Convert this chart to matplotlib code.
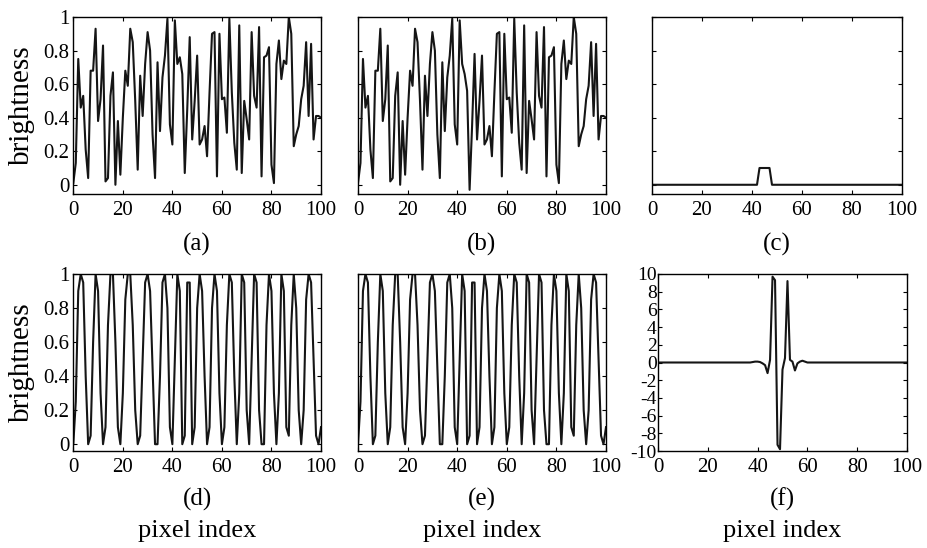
import matplotlib
matplotlib.use('Agg')
import matplotlib.pyplot as plt
import numpy as np

plt.rcParams['font.family'] = ['Liberation Serif', 'DejaVu Serif']

x_index = list(range(101))

sig_a = [0.01, 0.13, 0.75, 0.46, 0.53, 0.21, 0.04, 0.68, 0.68, 0.93,
         0.38, 0.51, 0.83, 0.02, 0.04, 0.53, 0.67, 0.00, 0.38, 0.06,
         0.40, 0.68, 0.59, 0.93, 0.85, 0.50, 0.09, 0.65, 0.41, 0.72,
         0.91, 0.80, 0.30, 0.04, 0.73, 0.32, 0.64, 0.77, 0.99, 0.36,
         0.24, 0.98, 0.72, 0.76, 0.66, 0.07, 0.45, 0.88, 0.27, 0.50,
         0.77, 0.24, 0.27, 0.35, 0.17, 0.55, 0.90, 0.91, 0.05, 0.90,
         0.51, 0.52, 0.31, 0.99, 0.55, 0.25, 0.09, 0.95, 0.07, 0.50,
         0.39, 0.27, 0.91, 0.53, 0.46, 0.94, 0.05, 0.76, 0.77, 0.82,
         0.12, 0.01, 0.72, 0.86, 0.63, 0.74, 0.72, 1.00, 0.90, 0.23,
         0.30, 0.35, 0.51, 0.59, 0.85, 0.41, 0.84, 0.27, 0.41, 0.41,
         0.40]

sig_b = [0.01, 0.13, 0.75, 0.46, 0.53, 0.21, 0.04, 0.68, 0.68, 0.93,
         0.38, 0.51, 0.83, 0.02, 0.04, 0.53, 0.67, 0.00, 0.38, 0.06,
         0.40, 0.68, 0.59, 0.93, 0.85, 0.50, 0.09, 0.65, 0.41, 0.72,
         0.91, 0.80, 0.30, 0.04, 0.73, 0.32, 0.64, 0.77, 0.99, 0.36,
         0.24, 0.98, 0.72, 0.66, 0.56, -0.03, 0.35, 0.78, 0.27, 0.50,
         0.77, 0.24, 0.27, 0.35, 0.17, 0.55, 0.90, 0.91, 0.05, 0.90,
         0.51, 0.52, 0.31, 0.99, 0.55, 0.25, 0.09, 0.95, 0.07, 0.50,
         0.39, 0.27, 0.91, 0.53, 0.46, 0.94, 0.05, 0.76, 0.77, 0.82,
         0.12, 0.01, 0.72, 0.86, 0.63, 0.74, 0.72, 1.00, 0.90, 0.23,
         0.30, 0.35, 0.51, 0.59, 0.85, 0.41, 0.84, 0.27, 0.41, 0.41,
         0.40]

sig_c = [0.0] * 43 + [0.1] * 5 + [0.0] * 53

sig_d = [0.00, 0.25, 0.90, 1.00, 0.95, 0.40, 0.00, 0.05, 0.60, 1.00,
         0.90, 0.30, 0.00, 0.10, 0.70, 1.00, 1.00, 0.60, 0.10, 0.00,
         0.30, 0.85, 1.00, 1.00, 0.70, 0.20, 0.00, 0.05, 0.50, 0.95,
         1.00, 0.90, 0.45, 0.00, 0.00, 0.40, 0.95, 1.00, 0.80, 0.10,
         0.00, 0.50, 1.00, 0.90, 0.00, 0.05, 0.95, 0.95, 0.00, 0.10,
         0.80, 1.00, 0.90, 0.40, 0.00, 0.10, 0.80, 1.00, 0.90, 0.30,
         0.00, 0.10, 0.70, 1.00, 0.95, 0.40, 0.00, 0.30, 1.00, 0.95,
         0.20, 0.00, 0.50, 1.00, 0.95, 0.20, 0.00, 0.00, 0.70, 1.00,
         0.90, 0.30, 0.00, 0.30, 1.00, 0.90, 0.10, 0.05, 0.70, 1.00,
         0.80, 0.20, 0.00, 0.20, 0.85, 1.00, 0.95, 0.50, 0.05, 0.00,
         0.10]

sig_e = [0.00, 0.25, 0.90, 1.00, 0.95, 0.40, 0.00, 0.05, 0.60, 1.00,
         0.90, 0.30, 0.00, 0.10, 0.70, 1.00, 1.00, 0.60, 0.10, 0.00,
         0.30, 0.85, 1.00, 1.00, 0.70, 0.20, 0.00, 0.05, 0.50, 0.95,
         1.00, 0.90, 0.45, 0.00, 0.00, 0.40, 0.95, 1.00, 0.80, 0.10,
         0.00, 0.50, 1.00, 0.90, 0.00, 0.05, 0.95, 0.95, 0.00, 0.10,
         0.80, 1.00, 0.90, 0.40, 0.00, 0.10, 0.80, 1.00, 0.90, 0.30,
         0.00, 0.10, 0.70, 1.00, 0.95, 0.40, 0.00, 0.30, 1.00, 0.95,
         0.20, 0.00, 0.50, 1.00, 0.95, 0.20, 0.00, 0.00, 0.70, 1.00,
         0.90, 0.30, 0.00, 0.30, 1.00, 0.90, 0.10, 0.05, 0.70, 1.00,
         0.80, 0.20, 0.00, 0.20, 0.85, 1.00, 0.95, 0.50, 0.05, 0.00,
         0.10]

sig_f = [0.0] * 38 + [0.05, 0.1, 0.1, 0.05, -0.1, -0.3, -1.2, 0.3, 9.7, 9.3,
                      -9.3, -9.8, -0.8, 0.5, 9.2, 0.3, 0.1, -0.9, -0.1, 0.1,
                      0.2, 0.1] + [0.0] * 41

panel_labels = ['(a)', '(b)', '(c)', '(d)', '(e)', '(f)']
xticks = [0, 20, 40, 60, 80, 100]
bright_ticks = [0, 0.2, 0.4, 0.6, 0.8, 1.0]
bright_ticklabels = ['0', '0.2', '0.4', '0.6', '0.8', '1']
f_ticks = [-10, -8, -6, -4, -2, 0, 2, 4, 6, 8, 10]
f_ticklabels = ['-10', '-8', '-6', '-4', '-2', '0', '2', '4', '6', '8', '10']

W, H = 927, 548
fig = plt.figure(figsize=(W / 100, H / 100), dpi=100)

def rect(left, top, right, bottom):
    return [left / W, 1 - bottom / H, (right - left) / W, (bottom - top) / H]

pos = [rect(73.3, 17, 321, 194), rect(358, 17, 606, 194), rect(652, 17, 902, 194),
       rect(73.3, 274, 321, 451), rect(358, 274, 606, 451), rect(658, 274, 907, 451)]
data = [sig_a, sig_b, sig_c, sig_d, sig_e, sig_f]

fs = 15
for k in range(6):
    ax = fig.add_axes(pos[k])
    ax.plot(x_index, data[k], color='#151515', lw=1.5)
    ax.set_xlim(0, 100)
    ax.set_xticks(xticks)
    ax.tick_params(direction='in', top=True, right=True, labelsize=fs, length=3, width=0.8)
    ax.tick_params(axis='x', pad=5)
    ax.tick_params(axis='y', pad=3)
    if k < 5:
        if k < 3:
            ax.set_ylim(-0.055, 1.0)
        else:
            ax.set_ylim(-0.04, 1.0)
        ax.set_yticks(bright_ticks)
        if k in (0, 3):
            ax.set_yticklabels(bright_ticklabels)
        else:
            ax.set_yticklabels([])
    else:
        ax.set_ylim(-10, 10)
        ax.set_yticks(f_ticks)
        ax.set_yticklabels(f_ticklabels)
        ax.tick_params(axis='y', labelsize=14, pad=1)
    for s in ax.spines.values():
        s.set_linewidth(1.0)
    cx = pos[k][0] + pos[k][2] / 2
    ylab = 1 - (244 / H) if k < 3 else 1 - (499 / H)
    fig.text(cx, ylab, panel_labels[k], ha='center', va='center', fontsize=18)
    if k >= 3:
        fig.text(cx, 1 - 531 / H, 'pixel index', ha='center', va='center', fontsize=19)
    if k in (0, 3):
        cy = pos[k][1] + pos[k][3] / 2
        fig.text(22 / W, cy, 'brightness', rotation=90, ha='center', va='center', fontsize=21)

fig.savefig('out.png', dpi=100)
